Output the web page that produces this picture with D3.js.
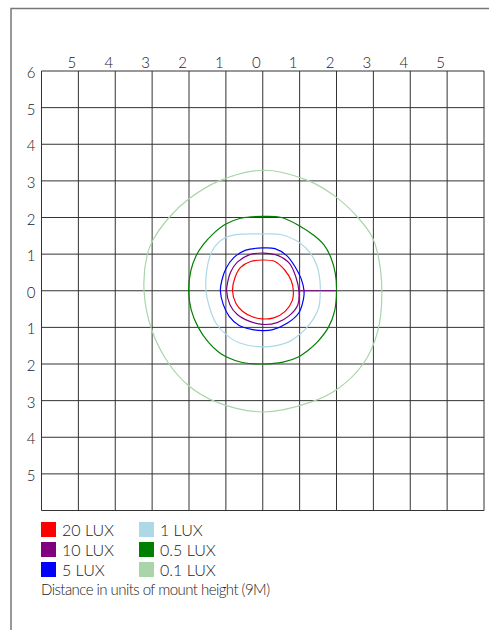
<!DOCTYPE html>
<html><head><meta charset="utf-8">
<script src="https://cdn.jsdelivr.net/npm/d3@7"></script>
<style>
html,body{margin:0;padding:0;background:#fff;}
text{font-family:Lato,"Open Sans",sans-serif;font-weight:300;fill:#222;}
</style></head>
<body>
<svg id="chart" width="489" height="630"></svg>
<script>
// ---- data ----
const xTicks = [-5,-4,-3,-2,-1,0,1,2,3,4,5];
const xTickLabels = ["5","4","3","2","1","0","1","2","3","4","5"];
const yTicks = [6,5,4,3,2,1,0,-1,-2,-3,-4,-5];
const yTickLabels = ["6","5","4","3","2","1","0","1","2","3","4","5"];
const gridLines = [-6,-5,-4,-3,-2,-1,0,1,2,3,4,5,6];

const levels = ["20 LUX","10 LUX","5 LUX","1 LUX","0.5 LUX","0.1 LUX"];
const levelColors = ["#ff0000","#800080","#0000ff","#add8e6","#008000","#a9d5a9"];

// closed contour rings (x, y in units of mount height)
const lux20 = [[0,0.84],[0.33,0.80],[0.60,0.56],[0.77,0.28],[0.83,0],[0.80,-0.27],[0.60,-0.57],[0.30,-0.74],[0,-0.77],[-0.28,-0.71],[-0.55,-0.56],[-0.73,-0.34],[-0.82,0],[-0.75,0.37],[-0.60,0.64],[-0.33,0.80]];
const lux10 = [[0,1.03],[0.42,0.96],[0.73,0.74],[0.90,0.37],[0.98,0],[0.95,-0.39],[0.72,-0.68],[0.39,-0.87],[0,-0.92],[-0.37,-0.83],[-0.69,-0.65],[-0.89,-0.38],[-0.98,0],[-0.96,0.19],[-0.87,0.51],[-0.69,0.78],[-0.37,0.98]];
const lux10Tail = [[2.0,0],[0.98,0]];
const lux5 = [[0,1.17],[0.33,1.15],[0.65,0.96],[0.88,0.65],[1.04,0.33],[1.12,0],[1.10,-0.25],[0.98,-0.60],[0.66,-0.89],[0.25,-1.07],[0,-1.09],[-0.28,-1.06],[-0.64,-0.95],[-0.91,-0.70],[-1.07,-0.38],[-1.15,0],[-1.11,0.28],[-1.0,0.60],[-0.78,0.91],[-0.46,1.11]];
const lux1 = [[0,1.55],[0.51,1.53],[1.0,1.31],[1.31,1.0],[1.48,0.65],[1.55,0.28],[1.56,0],[1.52,-0.45],[1.29,-0.89],[0.99,-1.2],[0.62,-1.43],[0,-1.53],[-0.64,-1.42],[-1.0,-1.19],[-1.27,-0.88],[-1.45,-0.43],[-1.54,0],[-1.52,0.55],[-1.43,0.95],[-1.29,1.22],[-1.07,1.42],[-0.73,1.53]];
const lux05 = [[0,2.03],[0.51,2.0],[1.0,1.77],[1.40,1.50],[1.66,1.25],[1.85,0.90],[1.97,0.46],[2.0,0],[1.95,-0.55],[1.78,-1.0],[1.47,-1.41],[1.20,-1.65],[0.98,-1.80],[0.55,-1.95],[0,-2.0],[-0.55,-1.96],[-0.98,-1.81],[-1.20,-1.67],[-1.47,-1.41],[-1.75,-1.0],[-1.94,-0.52],[-2.01,0],[-1.95,0.55],[-1.81,0.95],[-1.62,1.25],[-1.34,1.56],[-1.0,1.82],[-0.6,1.98]];
const lux01 = [[0,3.29],[1.2,3.02],[2.0,2.55],[2.58,2.0],[2.95,1.5],[3.12,1.0],[3.23,0],[3.12,-1.1],[2.72,-2.0],[2.03,-2.68],[1.3,-3.04],[0,-3.31],[-1.3,-3.02],[-2.0,-2.6],[-2.54,-2.0],[-3.0,-1.1],[-3.22,0],[-3.13,1.0],[-2.98,1.38],[-2.54,2.0],[-2.0,2.51],[-1.18,3.0]];
const contours = [lux01, lux05, lux1, lux5, lux10, lux20];
const contourColors = ["#a9d5a9","#008000","#add8e6","#0000ff","#800080","#ff0000"];
const footnote = "Distance in units of mount height (9M)";

// ---- drawing ----
const svg = d3.select("#chart");
const x = d3.scaleLinear().domain([-6,6]).range([41.5,484]);
const y = d3.scaleLinear().domain([-6,6]).range([510.5,71]);

// outer frame
svg.append("path").attr("d","M11,630 V8.5 H489").attr("fill","none").attr("stroke","#777").attr("stroke-width",1.5);

// grid
const g = svg.append("g");
g.selectAll("line.v").data(gridLines).join("line").attr("class","v")
  .attr("x1",d=>x(d)).attr("x2",d=>x(d)).attr("y1",y(6)).attr("y2",y(-6))
  .attr("stroke","#333").attr("stroke-width",1);
g.selectAll("line.h").data(gridLines).join("line").attr("class","h")
  .attr("y1",d=>y(d)).attr("y2",d=>y(d)).attr("x1",x(-6)).attr("x2",x(6))
  .attr("stroke","#333").attr("stroke-width",1);

// tick labels
svg.selectAll("text.xt").data(xTicks).join("text").attr("class","xt")
  .attr("x",d=>x(d)-6.5).attr("y",68).attr("text-anchor","middle")
  .attr("font-size",15).text((d,i)=>xTickLabels[i]);
svg.selectAll("text.yt").data(yTicks).join("text").attr("class","yt")
  .attr("x",31).attr("y",d=>y(d)+7).attr("text-anchor","middle")
  .attr("font-size",15).text((d,i)=>yTickLabels[i]);

// contours
const ring = d3.line().x(d=>x(d[0])).y(d=>y(d[1])).curve(d3.curveCatmullRomClosed.alpha(0.5));
svg.selectAll("path.c").data(contours).join("path").attr("class","c")
  .attr("d",ring).attr("fill","none")
  .attr("stroke",(d,i)=>contourColors[i]).attr("stroke-width",1.2);
const seg = d3.line().x(d=>x(d[0])).y(d=>y(d[1]));
svg.append("path").attr("d",seg(lux10Tail)).attr("fill","none").attr("stroke","#800080").attr("stroke-width",1.2);

// legend
const leg = svg.append("g");
levels.forEach((lab,i)=>{
  const col = Math.floor(i/3), row = i%3;
  const lx = 41 + col*98, ly = 522 + row*20;
  leg.append("rect").attr("x",lx).attr("y",ly).attr("width",15).attr("height",15).attr("fill",levelColors[i]);
  leg.append("text").attr("x",lx+21).attr("y",ly+14).attr("font-size",16).text(lab);
});
svg.append("text").attr("x",41).attr("y",595).attr("font-size",15).attr("textLength",229).text(footnote);
</script>
</body></html>
